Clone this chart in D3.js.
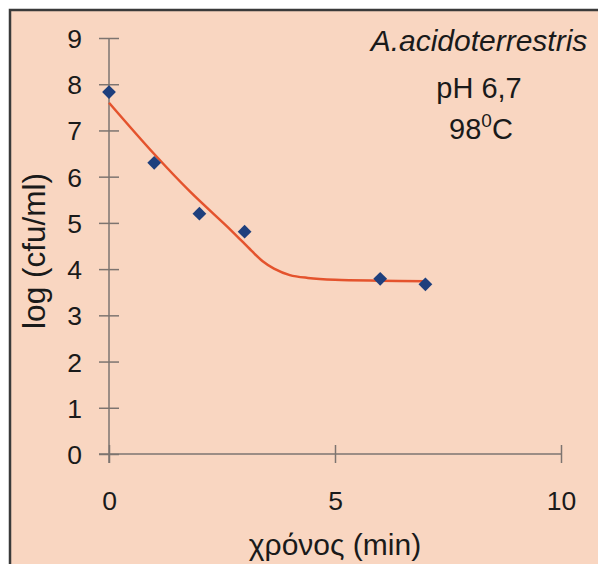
<!DOCTYPE html>
<html>
<head>
<meta charset="utf-8">
<script src="https://cdn.jsdelivr.net/npm/d3@7"></script>
<style>
  html, body { margin: 0; padding: 0; background: #ffffff; }
  svg { display: block; }
  text { font-family: "Liberation Sans", Arial, sans-serif; fill: #1a1a1a; }
</style>
</head>
<body>
<svg id="chart" width="598" height="564"></svg>
<script>
// Data
const times = [0, 1, 2, 3, 6, 7];
const logCounts = [7.83, 6.3, 5.2, 4.81, 3.79, 3.67];
const fitTimes = [0, 1, 1.8, 2.7, 3.15, 3.4, 3.65, 4.0, 4.4, 5, 6, 7];
const fitValues = [7.6, 6.49, 5.67, 4.84, 4.40, 4.17, 4.01, 3.87, 3.81, 3.77, 3.75, 3.74];
const xTicks = [0, 5, 10];
const yTicks = [0, 1, 2, 3, 4, 5, 6, 7, 8, 9];
const annotations = ["A.acidoterrestris", "pH 6,7", "98"];

const svg = d3.select("#chart");

// frame / background
svg.append("rect")
  .attr("x", 10).attr("y", 10)
  .attr("width", 620).attr("height", 600)
  .attr("fill", "#f9d6c1")
  .attr("stroke", "#3a3a3a")
  .attr("stroke-width", 2.5);

const x = d3.scaleLinear().domain([0, 10]).range([109, 561]);
const y = d3.scaleLinear().domain([0, 9]).range([454, 38]);

const axisColor = "#7d7470";
const tickFont = "26.5px";

// Y axis (ticks cross the axis)
const yAxis = svg.append("g").attr("transform", `translate(${x(0)},0)`)
  .call(d3.axisLeft(y).tickValues(yTicks).tickSize(0).tickFormat(d3.format("d")));
yAxis.select(".domain").remove();
yAxis.append("line").attr("x1", 0).attr("x2", 0).attr("y1", y(9)).attr("y2", y(0) + 9)
  .attr("stroke", axisColor).attr("stroke-width", 1.5);
yAxis.selectAll(".tick").append("line")
  .attr("x1", -10).attr("x2", 10).attr("stroke", axisColor).attr("stroke-width", 1.5);
yAxis.selectAll(".tick text")
  .attr("x", -27).attr("dy", "0.36em")
  .style("font-size", tickFont).style("font-family", "'Liberation Sans', Arial, sans-serif")
  .attr("fill", "#1a1a1a");

// X axis
const xAxis = svg.append("g").attr("transform", `translate(0,${y(0)})`)
  .call(d3.axisBottom(x).tickValues(xTicks).tickSize(0).tickFormat(d3.format("d")));
xAxis.select(".domain").remove();
xAxis.append("line").attr("x1", x(0) - 10).attr("x2", x(10)).attr("y1", 0).attr("y2", 0)
  .attr("stroke", axisColor).attr("stroke-width", 1.5);
xAxis.selectAll(".tick").append("line")
  .attr("y1", -9).attr("y2", 9).attr("stroke", axisColor).attr("stroke-width", 1.5);
xAxis.selectAll(".tick text")
  .attr("y", 56).attr("dy", 0)
  .style("font-size", tickFont).style("font-family", "'Liberation Sans', Arial, sans-serif")
  .attr("fill", "#1a1a1a");

// Axis titles
svg.append("text")
  .attr("x", 335).attr("y", 555)
  .attr("text-anchor", "middle")
  .style("font-size", "30px")
  .text("χρόνος (min)");

svg.append("text")
  .attr("transform", "translate(45,251) rotate(-90)")
  .attr("text-anchor", "middle")
  .style("font-size", "31.5px")
  .text("log (cfu/ml)");

// Fitted curve
const line = d3.line()
  .x((d, i) => x(fitTimes[i]))
  .y(d => y(d))
  .curve(d3.curveCatmullRom.alpha(0.5));
svg.append("path")
  .datum(fitValues)
  .attr("d", line)
  .attr("fill", "none")
  .attr("stroke", "#e4532d")
  .attr("stroke-width", 2.5);

// Data points (diamonds)
const diamond = d3.symbol().type(d3.symbolSquare).size(95);
svg.selectAll(".pt")
  .data(logCounts)
  .enter().append("path")
  .attr("class", "pt")
  .attr("d", diamond)
  .attr("transform", (d, i) => `translate(${x(times[i])},${y(d)}) rotate(45)`)
  .attr("fill", "#1e3f7d");

// Annotations
svg.append("text")
  .attr("x", 479).attr("y", 51)
  .attr("text-anchor", "middle")
  .style("font-size", "30px").style("font-style", "italic")
  .text(annotations[0]);
svg.append("text")
  .attr("x", 479).attr("y", 98)
  .attr("text-anchor", "middle")
  .style("font-size", "29px")
  .text(annotations[1]);
const t3 = svg.append("text")
  .attr("x", 481).attr("y", 139)
  .attr("text-anchor", "middle")
  .style("font-size", "29px");
t3.append("tspan").text(annotations[2]);
t3.append("tspan").attr("dy", -12).style("font-size", "19px").text("0");
t3.append("tspan").attr("dy", 12).text("C");
</script>
</body>
</html>
